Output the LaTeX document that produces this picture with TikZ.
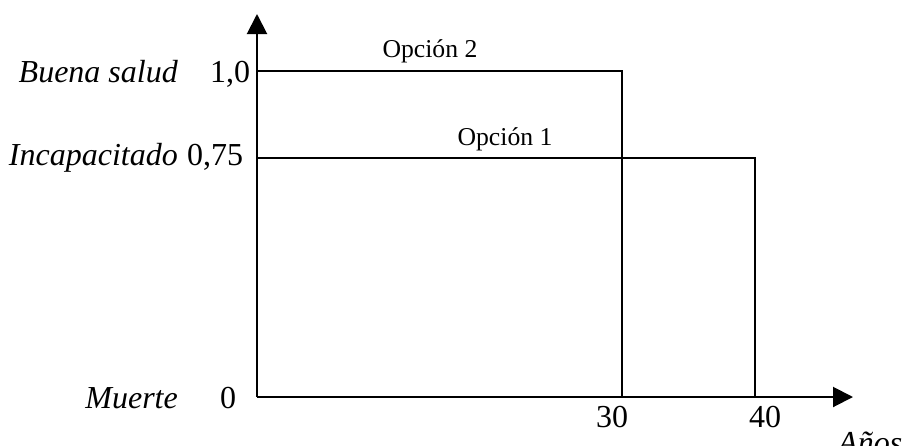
\documentclass[tikz,border=0pt]{standalone}
\usepackage{fontspec}
\setmainfont{Liberation Serif}
\usetikzlibrary{arrows.meta}
\begin{document}
\begin{tikzpicture}[x=1pt,y=-1pt,
  line/.style={line width=2pt},
  axis/.style={line width=2pt,-{Triangle[length=20pt,width=20pt]}},
  big/.style={inner sep=0pt,font=\fontsize{32}{38}\selectfont},
  small/.style={inner sep=0pt,font=\fontsize{25.7}{30}\selectfont}]
\useasboundingbox (0,0) rectangle (905,445);
% coordinates
\coordinate (O) at (257,397);
\coordinate (ytip) at (257,14);
\coordinate (xtip) at (853,397);
\coordinate (a1) at (257,71);
\coordinate (a2) at (622,71);
\coordinate (a3) at (622,397);
\coordinate (b1) at (257,158);
\coordinate (b2) at (755,158);
\coordinate (b3) at (755,397);
% axes
\draw[axis] (O) -- (ytip);
\draw[axis] (O) -- (xtip);
% options
\draw[line] (a1) -- (a2) -- (a3);
\draw[line] (b1) -- (b2) -- (b3);
% labels
\node[big,anchor=base east] (buena) at (178,82) {\itshape Buena salud};
\node[big,anchor=base west] (uno) at (210,82) {1,0};
\node[big,anchor=base east] (incap) at (178,165) {\itshape Incapacitado};
\node[big,anchor=base west] (tres) at (187,165) {0,75};
\node[big,anchor=base east] (muerte) at (178,408) {\itshape Muerte};
\node[big,anchor=base west] (cero) at (220,408) {0};
\node[big,anchor=base] (t30) at (612,427) {30};
\node[big,anchor=base] (t40) at (765,427) {40};
\node[big,anchor=base west] (anos) at (838,453) {\itshape Años};
\node[small,anchor=base] (op2) at (430,57) {Opción 2};
\node[small,anchor=base] (op1) at (505,145) {Opción 1};
\end{tikzpicture}
\end{document}
